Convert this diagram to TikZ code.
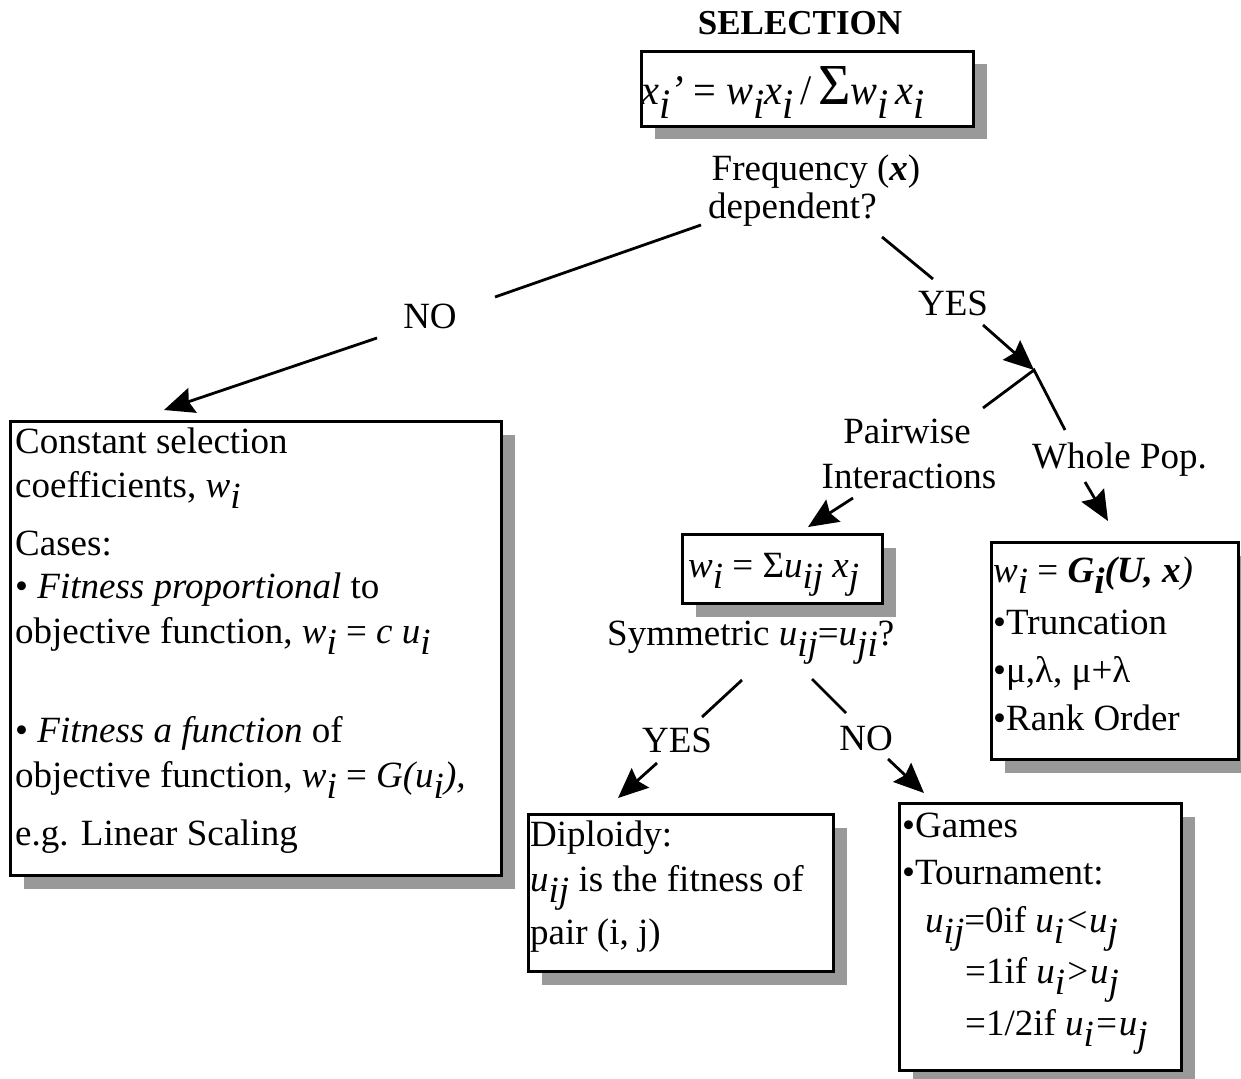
\documentclass[tikz,border=0pt]{standalone}
\usepackage{fontspec}
\usepackage{graphicx}
\setmainfont{Liberation Serif}
\usetikzlibrary{arrows.meta,shadows}
\definecolor{shadowgray}{RGB}{153,153,153}
\newcommand\subx[1]{\raisebox{-0.32em}{#1}}
\tikzset{
  box/.style={draw=black, line width=3pt, fill=white, rectangle, inner sep=0pt, anchor=north west,
    drop shadow={shadow xshift=13pt, shadow yshift=-13pt, fill=shadowgray, opacity=1}},
  txt/.style={inner sep=0pt, anchor=base west},
  ctxt/.style={inner sep=0pt, anchor=base},
  conn/.style={line width=2.8pt},
  arr/.style={line width=2.8pt, -{Stealth[length=30pt,width=26pt,inset=4pt]}},
}
\begin{document}
\begin{tikzpicture}[x=1pt,y=-1pt,font=\fontsize{37}{44}\selectfont]
\useasboundingbox (0,0) rectangle (1241,1078);
% boxes
\node[box, minimum width=332pt, minimum height=75pt] (top) at (640,50) {};
\node[box, minimum width=491pt, minimum height=454pt] (left) at (9,420) {};
\node[box, minimum width=200pt, minimum height=69pt] (mid) at (681,533) {};
\node[box, minimum width=247pt, minimum height=217pt] (right) at (990,541) {};
\node[box, minimum width=305pt, minimum height=157pt] (dip) at (527,813) {};
\node[box, minimum width=282pt, minimum height=267pt] (games) at (898,802) {};
% title and top formula
\node[ctxt, font=\fontsize{35}{40}\selectfont\bfseries] (title) at (800,35) {SELECTION};
\node[txt, font=\fontsize{42}{48}\selectfont] (f1) at (641,105)
  {\scalebox{0.96}[1]{\textit{x\subx{i}’} = \textit{w\subx{i}x\subx{i}}\,/\,{\fontsize{58}{58}\selectfont Σ}\textit{w\subx{i}\,x\subx{i}}}};
% question 1
\node[ctxt] (q1a) at (816,180) {Frequency (\textbf{\textit{x}})};
\node[txt] (q1b) at (708,218) {dependent?};
\node[ctxt] (no1) at (430,328) {NO};
\node[ctxt] (yes1) at (953,315) {YES};
\node[ctxt] (pw1) at (907,443) {Pairwise};
\node[ctxt] (pw2) at (909,488) {Interactions};
\node[txt] (wp) at (1032,468) {Whole Pop.};
% left box text
\node[txt] (l1) at (15,453) {Constant selection};
\node[txt] (l2) at (15,497) {coefficients, \textit{w\subx{i}}};
\node[txt] (l3) at (15,555) {Cases:};
\node[txt] (l4) at (15,598) {• \textit{Fitness proportional} to};
\node[txt] (l5) at (15,643) {objective function, \textit{w\subx{i}} = \textit{c u\subx{i}}};
\node[txt] (l6) at (15,742) {• \textit{Fitness a function} of};
\node[txt] (l7) at (15,787) {objective function, \textit{w\subx{i}} = \textit{G(u\subx{i}),}};
\node[txt] (l8) at (15,845) {e.g. Linear Scaling};
% middle
\node[txt] (f2) at (688,577) {\textit{w\subx{i}} = Σ\textit{u\subx{ij} x\subx{j}}};
\node[txt] (q2) at (607,645) {Symmetric \textit{u\subx{ij}}=\textit{u\subx{ji}}?};
\node[ctxt] (yes2) at (677,752) {YES};
\node[ctxt] (no2) at (866,750) {NO};
% right box
\node[txt] (r1) at (993,582) {\textit{w\subx{i}} = \textbf{\textit{G\subx{i}(U, x}}\textit{)}};
\node[txt] (r2) at (993,634) {•Truncation};
\node[txt] (r3) at (993,682) {•μ,λ, μ+λ};
\node[txt] (r4) at (993,730) {•Rank Order};
% diploidy
\node[txt] (d1) at (530,846) {Diploidy:};
\node[txt] (d2) at (530,891) {\textit{u\subx{ij}} is the fitness of};
\node[txt] (d3) at (530,944) {pair (i, j)};
% games
\node[txt] (g1) at (902,837) {•Games};
\node[txt] (g2) at (902,884) {•Tournament:};
\node[txt] (g3) at (925,932) {\textit{u\subx{ij}}=0if \textit{u\subx{i}<u\subx{j}}};
\node[txt] (g4) at (965,983) {=1if \textit{u\subx{i}>u\subx{j}}};
\node[txt] (g5) at (965,1035) {=1/2if \textit{u\subx{i}=u\subx{j}}};
% connector coordinates
\coordinate (a1) at (701,225); \coordinate (a2) at (495,297);
\coordinate (a3) at (377,338); \coordinate (a4) at (164,410);
\coordinate (b1) at (882,237); \coordinate (b2) at (933,279);
\coordinate (b3) at (983,325); \coordinate (jn) at (1034,370);
\coordinate (c1) at (983,408); \coordinate (c2) at (1065,430);
\coordinate (c3) at (1085,482); \coordinate (c4) at (1108,521);
\coordinate (c5) at (853,498); \coordinate (c6) at (808,527);
\coordinate (e1) at (742,680); \coordinate (e2) at (702,717);
\coordinate (e3) at (657,763); \coordinate (e4) at (618,798);
\coordinate (h1) at (812,679); \coordinate (h2) at (846,713);
\coordinate (h3) at (888,759); \coordinate (h4) at (924,793);
% connectors
\draw[conn] (a1) -- (a2);
\draw[arr] (a3) -- (a4);
\draw[conn] (b1) -- (b2);
\draw[arr] (b3) -- (jn);
\draw[conn] (c1) -- (jn) -- (c2);
\draw[arr] (c3) -- (c4);
\draw[arr] (c5) -- (c6);
\draw[conn] (e1) -- (e2);
\draw[arr] (e3) -- (e4);
\draw[conn] (h1) -- (h2);
\draw[arr] (h3) -- (h4);
\end{tikzpicture}
\end{document}
